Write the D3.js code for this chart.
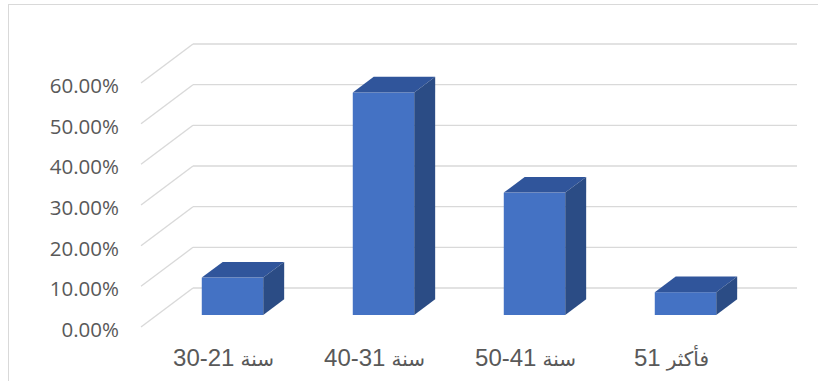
<!DOCTYPE html>
<html><head><meta charset="utf-8">
<script src="https://cdn.jsdelivr.net/npm/d3@7"></script>
<style>html,body{margin:0;padding:0;background:#fff;}svg{display:block;}</style>
</head><body>
<svg id="c" width="818" height="381"></svg>
<script>
const categories = ["30-21 سنة", "40-31 سنة", "50-41 سنة", "51 فأكثر"];
const values = [0.092, 0.547, 0.301, 0.056];
const tickValues = [0, 0.1, 0.2, 0.3, 0.4, 0.5, 0.6];

const svg = d3.select("#c");
// chart frame
svg.append("rect").attr("x", 8.5).attr("y", 4.5).attr("width", 830).attr("height", 400)
  .attr("fill", "#fff").attr("stroke", "#D9D9D9").attr("stroke-width", 1);

// back wall coordinates
const y = d3.scaleLinear().domain([0, 0.6]).range([288, 44]);
const x = d3.scaleBand().domain(categories).range([193, 797]).paddingInner(0.593).paddingOuter(0.2965);
const depthRatio = 52 / 39;
const wallDy = 39;           // floor depth (front edge below back wall)
const barFrontDy = 27;       // bar front plane relative to back wall
const barDy = 15.7;          // bar depth
const off = dy => [-dy * depthRatio, dy];

// gridlines: back wall horizontal + left side diagonal
const g = svg.append("g");
tickValues.forEach(t => {
  const yy = y(t);
  g.append("line").attr("x1", 193).attr("x2", 797).attr("y1", yy).attr("y2", yy)
    .attr("stroke", "#D9D9D9").attr("stroke-width", 1.3);
  const [ox, oy] = off(wallDy);
  g.append("line").attr("x1", 193).attr("y1", yy).attr("x2", 193 + ox).attr("y2", yy + oy)
    .attr("stroke", "#D9D9D9").attr("stroke-width", 1.3);
});

// tick labels
svg.append("g").selectAll("text").data(tickValues).join("text")
  .attr("x", 119).attr("y", d => y(d) + wallDy + 2)
  .attr("text-anchor", "end").attr("dominant-baseline", "central")
  .attr("font-family", "'Open Sans', sans-serif").attr("font-size", 20.5).attr("fill", "#595959")
  .text(d => d3.format(".2%")(d));

// bars
const [fx, fy] = off(barFrontDy);
const dX = barDy * depthRatio, dY = barDy;
const bars = svg.append("g");
categories.forEach((c, i) => {
  const x0 = x(c) + fx, x1 = x0 + x.bandwidth();
  const yb = y(0) + fy, yt = y(values[i]) + fy;
  bars.append("rect").attr("x", x0).attr("y", yt).attr("width", x1 - x0).attr("height", yb - yt)
    .attr("fill", "#4472C4");
  bars.append("path").attr("d", `M${x0},${yt}L${x1},${yt}L${x1 + dX},${yt - dY}L${x0 + dX},${yt - dY}Z`)
    .attr("fill", "#30559B");
  bars.append("path").attr("d", `M${x1},${yt}L${x1 + dX},${yt - dY}L${x1 + dX},${yb - dY}L${x1},${yb}Z`)
    .attr("fill", "#2B4C85");
});

// category labels: number run on the left, Arabic word on the right (as in the reference)
const labG = svg.append("g");
categories.forEach((c, i) => {
  const tokens = c.split(" ");
  const parts = [tokens.find(p => /\d/.test(p)), tokens.find(p => !/\d/.test(p))];
  const gg = labG.append("g");
  const gap = 6;
  let cursor = 0;
  parts.forEach(p => {
    const isArabic = /[\u0600-\u06FF]/.test(p);
    const t = gg.append("text").attr("y", 366).attr("text-anchor", "start")
      .attr("font-family", "'Liberation Sans', Arial, 'DejaVu Sans', sans-serif")
      .attr("font-size", isArabic ? 20 : 24).attr("fill", "#595959").text(p);
    const w = t.node().getComputedTextLength();
    t.attr("x", cursor);
    cursor += w + gap;
  });
  const total = cursor - gap;
  const cx = x(c) + fx + x.bandwidth() / 2 - (i === 3 ? 14 : 9);
  gg.attr("transform", `translate(${cx - total / 2},0)`);
});
</script>
</body></html>
